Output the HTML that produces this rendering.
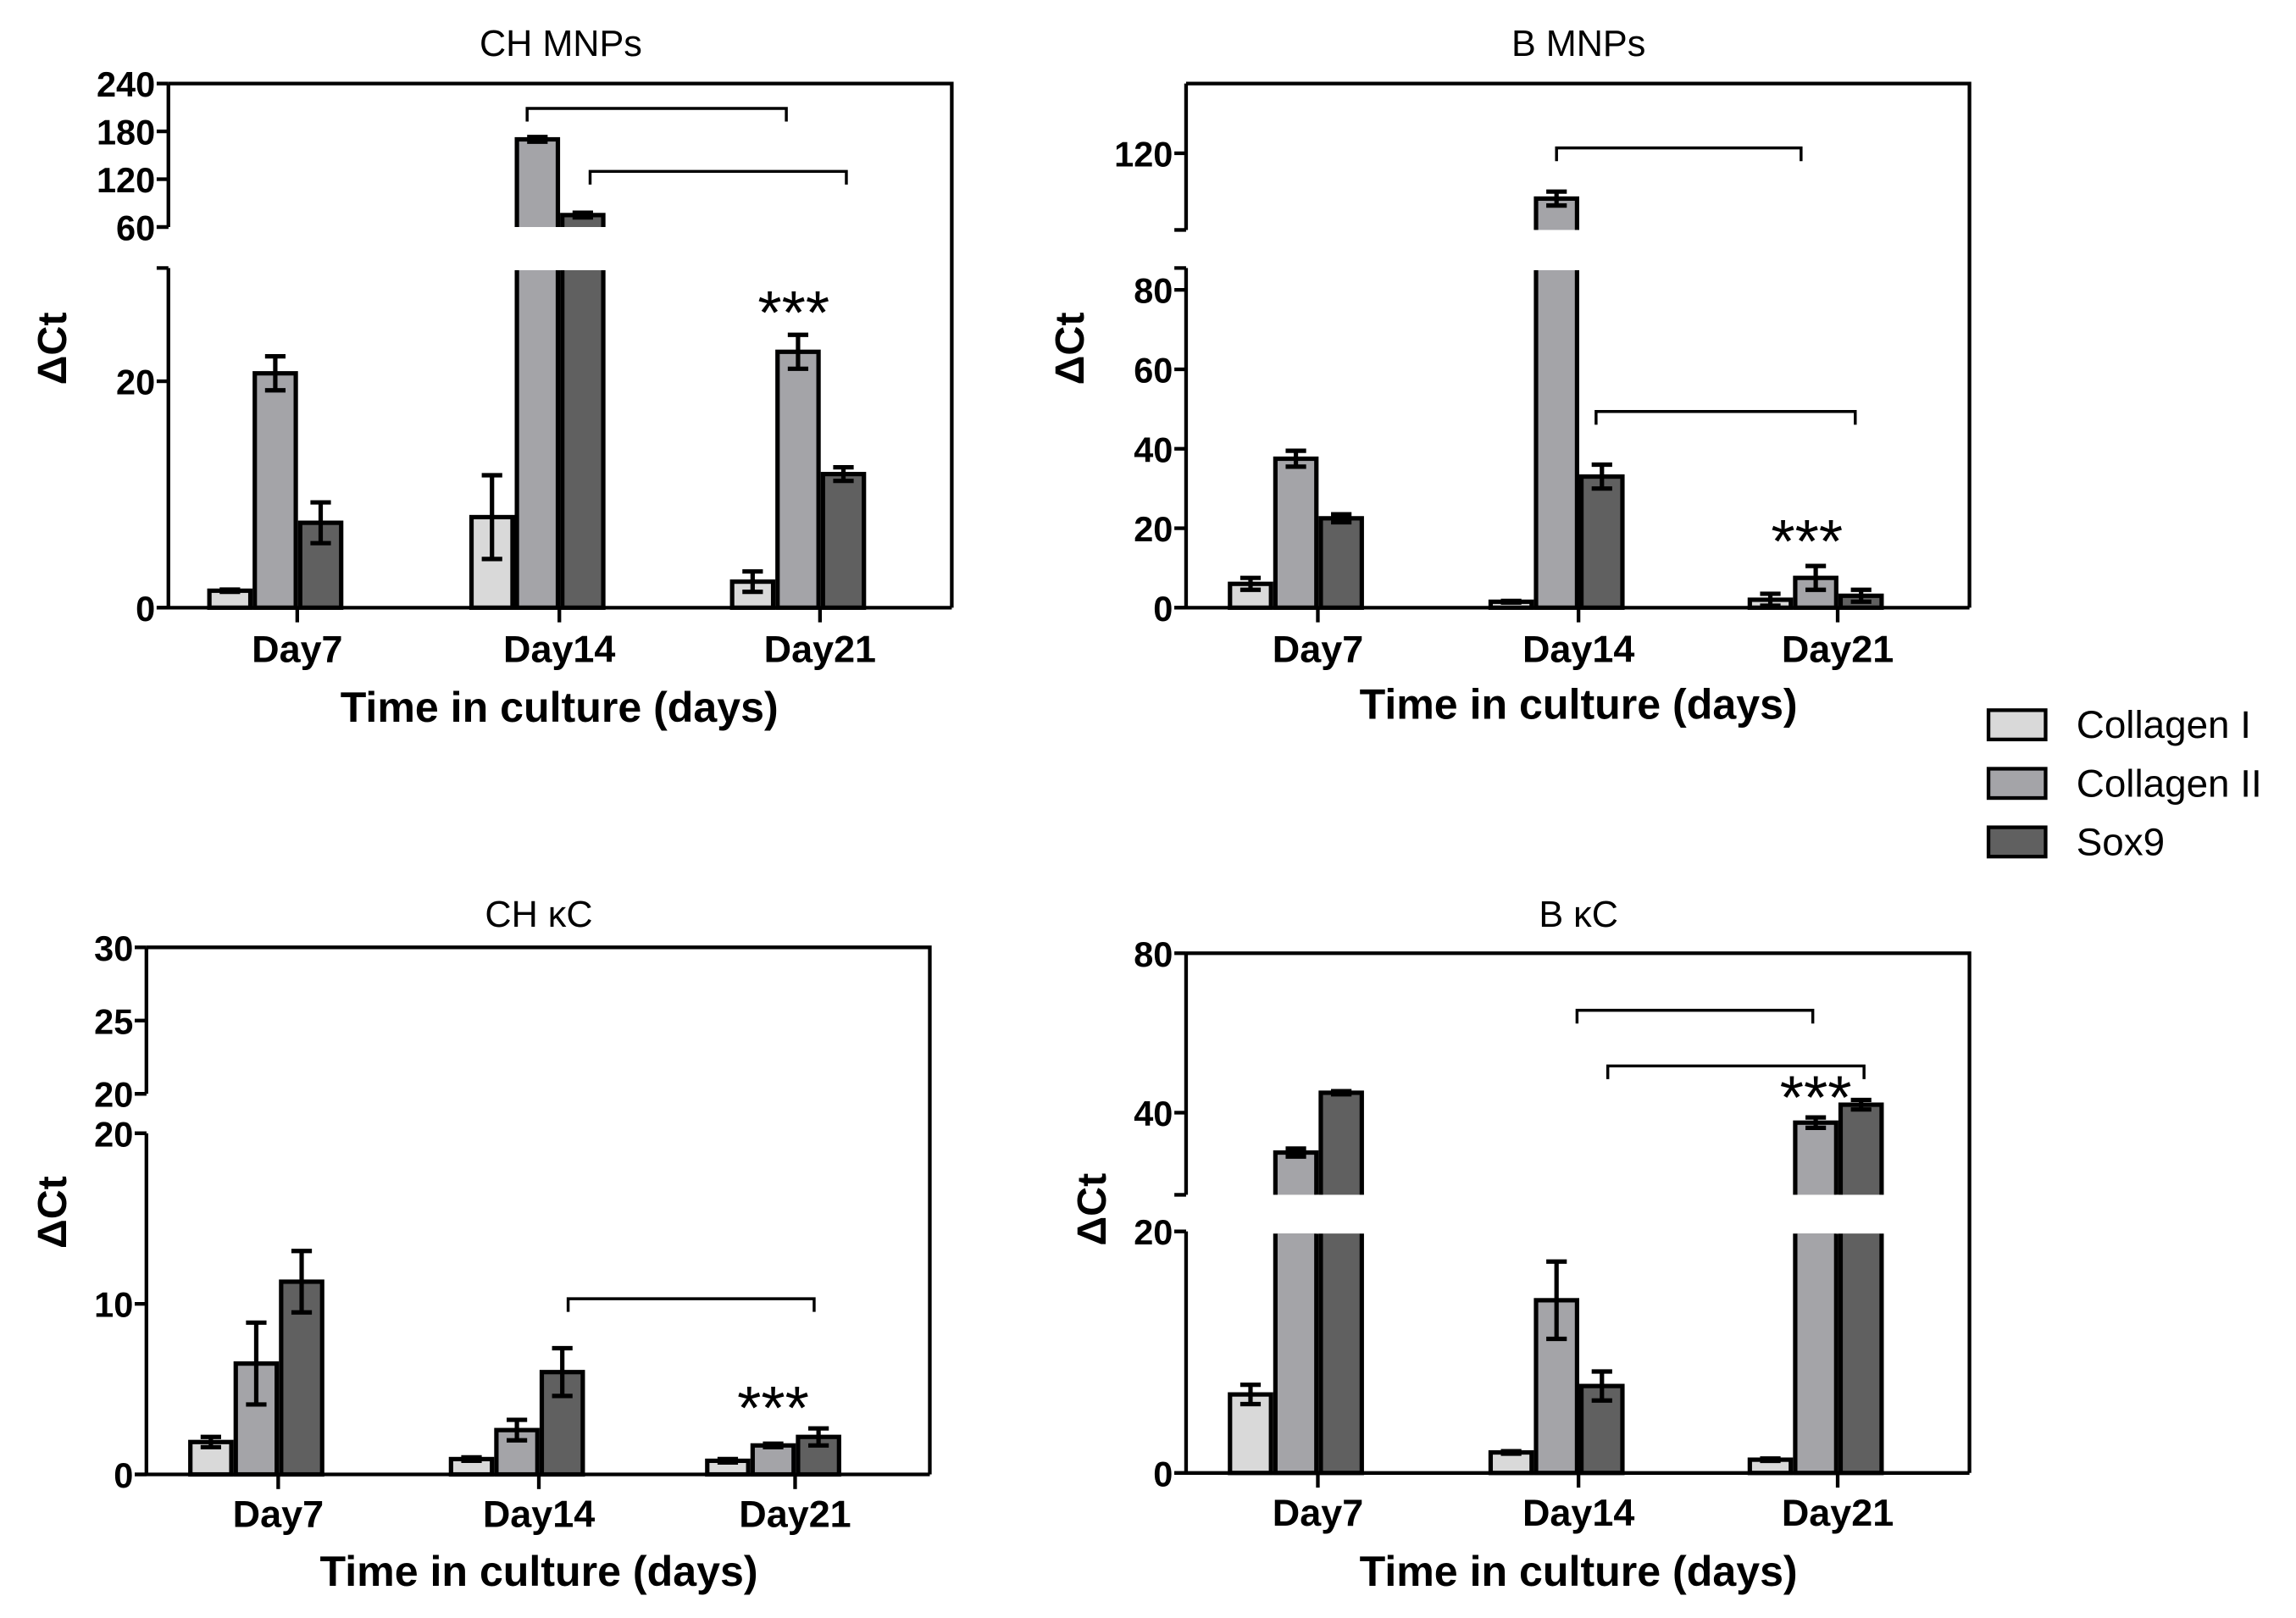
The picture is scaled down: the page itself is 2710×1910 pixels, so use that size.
<!DOCTYPE html>
<html><head><meta charset="utf-8"><style>body{margin:0;background:#fff}svg{display:block}</style></head>
<body>
<svg id="fig" width="2710" height="1910" viewBox="0 0 1568 1105" xmlns="http://www.w3.org/2000/svg" font-family="Liberation Sans, Arial, sans-serif"></svg>
<script>
const days = ["Day7","Day14","Day21"];
const seriesNames = ["Collagen I","Collagen II","Sox9"];
const colors = ["#d9d9d9","#a4a4a8","#606060"];
// CH MNPs
const chMnpVals = [[1.5,8,2.3],[20.7,170,22.6],[7.5,75,11.8]];
const chMnpErr  = [[0.1,3.7,0.9],[1.5,3,1.5],[1.8,3,0.6]];
const chMnpLowTicks = [0,20];
const chMnpUpTicks = [60,120,180,240];
// B MNPs
const bMnpVals = [[6,1.5,2],[37.5,107,7.5],[22.5,33,3]];
const bMnpErr  = [[1.5,0.2,1.5],[2,2,3],[1,3,1.5]];
const bMnpLowTicks = [0,20,40,60,80];
const bMnpUpTicks = [120];
// CH kC
const chKcVals = [[1.9,0.9,0.8],[6.5,2.6,1.7],[11.3,6,2.2]];
const chKcErr  = [[0.3,0.1,0.1],[2.4,0.6,0.1],[1.8,1.4,0.5]];
const chKcLowTicks = [0,10,20];
const chKcUpTicks = [20,25,30];
// B kC
const bKcVals = [[6.5,1.7,1.1],[30,14.3,37.5],[45,7.2,42]];
const bKcErr  = [[0.8,0.1,0.1],[1,3.2,1.3],[0.4,1.2,1.2]];
const bKcLowTicks = [0,20];
const bKcUpTicks = [40,80];

const NS="http://www.w3.org/2000/svg";
const svg=document.getElementById('fig');
function mk(tag,attrs,parent,text){const e=document.createElementNS(NS,tag);for(const k in attrs)e.setAttribute(k,attrs[k]);if(text!==undefined)e.textContent=text;(parent||svg).appendChild(e);return e;}

const panels=[
 {id:'ch-mnps',title:'CH MNPs',tx:383,ty:38,x0:115,x1:650,top:57,
  low:{v0:0,v1:30,y0:415,y1:183},up:{v0:60,v1:240,y0:155,y1:57},
  ticksX:[203,382,560],vals:chMnpVals,err:chMnpErr,lt:chMnpLowTicks,ut:chMnpUpTicks,
  ytx:35,yty:238,xl:452,xt:493,
  brackets:[[360,537,74],[403,578,117]],star:[542,228]},
 {id:'b-mnps',title:'B MNPs',tx:1078,ty:38,x0:810,x1:1345,top:57,
  low:{v0:0,v1:85.5,y0:415,y1:183},up:{v0:98,v1:140,y0:157,y1:57},
  ticksX:[900,1078,1255],vals:bMnpVals,err:bMnpErr,lt:bMnpLowTicks,ut:bMnpUpTicks,
  ytx:730,yty:238,xl:452,xt:491,
  brackets:[[1063,1230,101],[1090,1267,281]],star:[1234,384]},
 {id:'ch-kc',title:'CH κC',tx:368,ty:633,x0:100,x1:635,top:647,
  low:{v0:0,v1:20,y0:1007,y1:774},up:{v0:20,v1:30,y0:747,y1:647},
  ticksX:[190,368,543],vals:chKcVals,err:chKcErr,lt:chKcLowTicks,ut:chKcUpTicks,
  ytx:35,yty:828,xl:1043,xt:1083,
  brackets:[[388,556,887]],star:[528,976]},
 {id:'b-kc',title:'B κC',tx:1078,ty:633,x0:810,x1:1345,top:651,
  low:{v0:0,v1:20,y0:1006,y1:841},up:{v0:19.4,v1:80,y0:816,y1:651},
  ticksX:[900,1078,1255],vals:bKcVals,err:bKcErr,lt:bKcLowTicks,ut:bKcUpTicks,
  ytx:745,yty:826,xl:1042,xt:1083,
  brackets:[[1077,1238,690],[1098,1273,728]],star:[1240,764]}
];

function ys(seg,v){return seg.y0-(v-seg.v0)*(seg.y0-seg.y1)/(seg.v1-seg.v0);}
function yOf(p,v){return v<=p.low.v1?ys(p.low,v):ys(p.up,v);}

panels.forEach(p=>{
 const g=mk('g',{});
 
 
 const t=mk('text',{x:p.tx,y:p.ty,'text-anchor':'middle','font-size':25},g,p.title);
 
 const bw=28,step=31;
 days.forEach((d,di)=>{
  const c=p.ticksX[di]-15;
  seriesNames.forEach((s,si)=>{
   const v=p.vals[si][di],e=p.err[si][di];
   const bx=c+(si-1)*step-bw/2;
   const lowTop=ys(p.low,Math.min(v,p.low.v1));
   const r=mk('rect',{x:bx,y:lowTop,width:bw,height:p.low.y0-lowTop,fill:colors[si],stroke:'#000','stroke-width':3},g);
   
   
   if(v>p.low.v1){
    const uy=ys(p.up,v);
    const r2=mk('rect',{x:bx,y:uy,width:bw,height:p.up.y0-uy+2,fill:colors[si],stroke:'#000','stroke-width':3},g);
    
    
    mk('rect',{x:bx-3,y:p.up.y0,width:bw+6,height:lowTop-p.up.y0+1.5,fill:'#fff'},g);
   }
   const cx=bx+bw/2,yt=yOf(p,v+e),yb=yOf(p,Math.max(v-e,0));
   const eb=mk('path',{d:`M${cx},${yt}V${yb}M${cx-7},${yt}H${cx+7}M${cx-7},${yb}H${cx+7}`,stroke:'#000','stroke-width':3,fill:'none'},g);
   
   
  });
 });
 const ax=mk('path',{d:`M${p.x0},${p.low.y0}V${p.low.y1}M${p.x0-8},${p.low.y1}H${p.x0}M${p.x0},${p.up.y0}V${p.top}M${p.x0-8},${p.up.y0}H${p.x0}M${p.x0},${p.top}H${p.x1}V${p.low.y0}M${p.x0-8},${p.low.y0}H${p.x1}`,stroke:'#000','stroke-width':2.5,fill:'none'},g);
 
 const tickLab=(v,y)=>{
  mk('path',{d:`M${p.x0-8},${y}H${p.x0}`,stroke:'#000','stroke-width':2.5},g);
  const tl=mk('text',{x:p.x0-9,y:y+9,'text-anchor':'end','font-size':24,'font-weight':'bold'},g,String(v));
  
 };
 p.lt.forEach(v=>tickLab(v,ys(p.low,v)));
 p.ut.forEach(v=>tickLab(v,ys(p.up,v)));
 days.forEach((d,di)=>{
  const x=p.ticksX[di];
  mk('path',{d:`M${x},${p.low.y0}V${p.low.y0+10}`,stroke:'#000','stroke-width':2.5},g);
  const dl=mk('text',{x:x,y:p.xl,'text-anchor':'middle','font-size':26,'font-weight':'bold'},g,d);
  
 });
 const xt=mk('text',{x:p.ticksX[1],y:p.xt,'text-anchor':'middle','font-size':29,'font-weight':'bold'},g,'Time in culture (days)');
 
 const yt=mk('text',{x:0,y:0,'text-anchor':'middle','font-size':28,'font-weight':'bold',transform:`translate(${p.ytx+10},${p.yty}) rotate(-90)`},g,'ΔCt');
 
 p.brackets.forEach(b=>{
  const br=mk('path',{d:`M${b[0]},${b[2]+9}V${b[2]}H${b[1]}V${b[2]+9}`,stroke:'#000','stroke-width':2,fill:'none'},g);
  
 });
 const st=mk('text',{x:p.star[0],y:p.star[1],'text-anchor':'middle','font-size':42},g,'***');
 
});
const lg=mk('g',{});


seriesNames.forEach((s,i)=>{
 const y=485+i*40;
 const r=mk('rect',{x:1358,y:y,width:39,height:20,fill:colors[i],stroke:'#000','stroke-width':2.5},lg);
 
 const t=mk('text',{x:1418,y:y+19,'font-size':26.5},lg,s);
 
});
</script>
</body></html>
